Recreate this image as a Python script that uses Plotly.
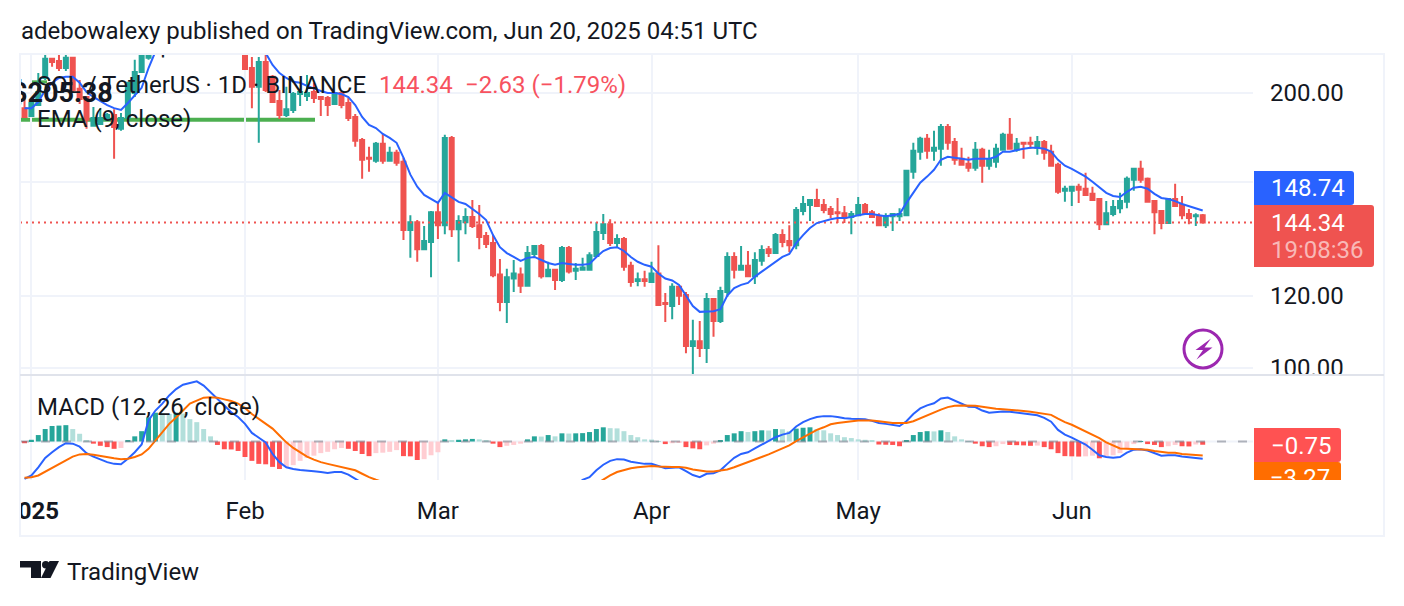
import pandas as pd
import plotly.graph_objects as go

W, H = 1404, 606

# Daily SOL/USDT candles, listed month by month. The rally days of late January are off scale.
candle_days = list(pd.date_range("2024-12-31", "2025-01-19")) + list(pd.date_range("2025-02-01", "2025-06-20"))

opens = [
    192.5, 188.7, 194, 207.7, 218, 216.8, 213, 218.5, 202.1, 198, 184.1, 185, 186.9, 189.2, 182.7, 187.8, 200, 210.9, 218.5, 240,
    228, 213, 203.1, 216.3, 208.3, 196, 189.2, 191.6, 199.5, 198.5, 200.5, 198, 197.5, 194.5, 200, 195, 188.3, 177.7, 169.9, 168.6, 176, 168.6, 172, 168.2, 141.6, 144.4, 134.9, 137.4,
    148.1, 143.3, 178.6, 141.9, 144.4, 146.3, 143.3, 139.5, 137, 126.6, 118.1, 125.3, 126.6, 123, 133.3, 136, 126, 128.1, 124.8, 135.3, 127.8, 128.1, 128.1, 132.6, 140.5, 143.7, 137, 138.4, 129.4, 124.5, 125.1,
    124.2, 126.9, 117.8, 116.9, 122.7, 120.2, 105.7, 107, 105.2, 119, 112.6, 121.1, 132.3, 128.1, 129.4, 126, 131, 134.9, 133.6, 139.8, 137.7, 136.3, 148.5, 150.8, 152.7, 150.8, 149.3, 148.1, 147.7, 146.3,
    147, 150.8, 148.1, 146.6, 143.3, 146.6, 146.6, 147, 164, 172.5, 178.2, 172.9, 173.8, 183.6, 176.8, 169.4, 167.3, 165.6, 173.3, 166.5, 168.2, 173.3, 180, 173.3, 176.4, 176.4, 174.2, 176.8, 172.5, 166.9, 156.3,
    156.3, 157.9, 157.1, 155.1, 153.1, 143.7, 147.4, 149.6, 152, 160.7, 165.2, 161.1, 152.3, 148.5, 144.1, 153.1, 150.8, 147.4, 146.6, 146.97,
]
highs = [
    200, 195, 210.3, 220.1, 218.5, 220.1, 220.6, 219, 206.7, 198.5, 193, 192.5, 190.1, 192, 190.1, 205.2, 217.5, 220.6, 260, 290,
    235, 219, 219, 225, 209.3, 201.5, 203.1, 200.5, 201.5, 209.3, 205.2, 198, 198.5, 200, 200.5, 197.5, 189.7, 178.6, 174.6, 176.8, 180.4, 174.6, 173.3, 169.9, 147, 145.2, 143, 148.5,
    151.6, 180, 179.5, 147, 149.6, 152.7, 150.8, 140.9, 139.8, 131.6, 128.4, 131.3, 128.8, 136, 136.3, 136.7, 130.7, 128.1, 136, 136, 130.3, 132, 133.9, 144.4, 147.4, 145.5, 140.1, 139.1, 130.7, 127.2, 127.8,
    130.7, 136.3, 120.8, 123.8, 123, 121.1, 112.9, 112.6, 120.8, 119.3, 122.7, 133.9, 133.9, 136, 134.3, 133.9, 136.3, 136, 140.5, 141.9, 143.3, 150, 154.3, 152.7, 157.1, 153.1, 150.4, 153.5, 150.4, 148.5,
    153.9, 151.6, 148.9, 147.7, 147.7, 147.4, 149.6, 164.8, 176.4, 179.1, 180.4, 181.8, 185, 185, 178.6, 174.2, 170.3, 176.8, 174.2, 173.3, 176, 180.9, 187.8, 178.6, 176.8, 179.1, 179.5, 177.7, 175.5, 167.8, 158.3,
    157.9, 159.1, 163.6, 157.9, 153.1, 152.3, 152.7, 155.5, 162, 165.6, 168.6, 161.6, 152.7, 148.5, 153.5, 159.1, 154.3, 149.3, 147.7, 147.4,
]
lows = [
    188.3, 188.3, 193.5, 206.7, 213.6, 211.4, 211.4, 200.5, 194.5, 182.7, 184.1, 185, 186.4, 169.4, 181.8, 187.8, 198, 210.3, 217.5, 230,
    212.5, 192.5, 176.4, 200.5, 195.5, 187.3, 188.3, 190.1, 193.5, 196, 195, 188.7, 188.7, 194, 192.5, 186.4, 174.6, 161.1, 164, 167.8, 167.3, 168.2, 166.5, 138.1, 132, 130.7, 134.6, 125.7,
    138.4, 140.1, 139.1, 130.7, 140.1, 142.3, 134.9, 135.3, 125.7, 115.4, 112, 121.1, 120.8, 123, 132.3, 125.3, 125.7, 121.7, 124.2, 126.9, 124.8, 127.8, 128.1, 132.3, 138.1, 136, 135.6, 127.8, 122.7, 122.9, 122.7,
    123.9, 116.9, 112.3, 113.1, 117.2, 103.8, 98, 102.8, 101.3, 108.2, 112, 119.6, 125.3, 128.1, 126, 123.6, 129.4, 132.3, 133.6, 135.6, 133.9, 134.9, 147, 144.8, 150, 147.7, 145.9, 144.1, 144.1, 140.1,
    146.6, 147.7, 145.9, 143.3, 142.3, 141.2, 144.8, 147, 161.1, 169, 169.4, 168.6, 166.5, 173.3, 166.9, 166.5, 164, 164.4, 159.5, 164.8, 165.6, 172.9, 173.3, 172.5, 169.4, 173.8, 171.2, 169, 166.1, 155.1, 152,
    150.4, 151.6, 154.3, 152.7, 141.6, 143.7, 146.6, 147.7, 149.6, 156.3, 159.5, 152, 140.1, 141.9, 144.1, 150.4, 145.5, 143.7, 143, 144.1,
]
closes = [
    188.3, 195, 200.5, 218, 216.3, 213, 218.5, 201.5, 197, 186.9, 187.8, 187.8, 189.2, 183.6, 187.8, 205.2, 210.9, 219.6, 240, 245,
    212.5, 203.1, 216.3, 201.5, 195.5, 189.2, 192, 199.5, 200.5, 200, 197.5, 197, 194, 200, 194, 187.8, 177.3, 169, 169.4, 176, 168.6, 172, 167.8, 141.6, 144.4, 134.9, 137.7, 148.1,
    143.3, 178.6, 141.9, 144.8, 146.3, 143, 139.1, 136.7, 126.3, 118.1, 125.7, 126.9, 123, 133.6, 136, 126, 128.1, 124.8, 135.3, 127.5, 128.4, 128.8, 132.9, 140.9, 143.7, 137, 138.4, 129.1, 124.2, 125.1, 124.5,
    126.9, 117.2, 117.5, 122.7, 120, 105.7, 107, 105.2, 119, 112.6, 121.4, 132.3, 128.1, 129.4, 126, 131.3, 134.6, 133.6, 139.8, 137.4, 136.3, 148.9, 151.2, 152.7, 150.4, 148.9, 147.4, 147.7, 145.9, 147.4,
    150.8, 147.7, 146.3, 143.3, 146.6, 147.4, 147.4, 164.4, 172.9, 178.2, 172.9, 174.2, 183.6, 176.4, 169, 166.9, 165.6, 173.3, 166.5, 169, 173.8, 180, 173.8, 176, 176, 176, 176.8, 172, 166.5, 155.9, 157.1,
    157.9, 156.7, 154.7, 152.7, 143.7, 147.7, 150, 152.3, 161.1, 165.2, 160.7, 152, 148.1, 144.1, 153.1, 150.4, 147, 145.9, 146.97, 144.34,
]
ema9 = [
    192.5, 192.5, 195.5, 201.5, 205.2, 207.7, 208.3, 208.3, 205.2, 200.5, 198, 196, 194, 192.5, 191.6, 195, 198.5, 202.6, 213, 222,
    235, 230, 225, 221.2, 214.6, 210.3, 207.7, 205.7, 205.2, 203.6, 202.1, 201, 200, 200, 199.5, 198, 194, 188.3, 184.5, 183.1, 180.4, 178.6, 176.4, 169.9, 162.8, 157.9, 154.7, 153.1,
    151.6, 155.5, 153.9, 152, 151.2, 149.3, 147.4, 145.2, 139.8, 135.6, 133.6, 132.3, 131, 132, 132.3, 131.3, 130.3, 129.7, 130.3, 130, 129.7, 129.7, 130, 132.3, 134.3, 135.3, 135.6, 134.3, 132.3, 130.7, 129.7,
    129.1, 126.9, 125.3, 124.7, 123.3, 120.2, 116.9, 115.2, 115.4, 115.4, 116, 120, 122.3, 123.3, 123.9, 125.9, 127.5, 129.1, 130.7, 132.3, 133.3, 137, 139.8, 142.3, 144.1, 144.8, 145.5, 145.9, 145.9, 146.3,
    147, 147.4, 147.4, 147, 146.6, 147, 147.4, 151.6, 155.5, 159.5, 162, 164.8, 169, 170.3, 169.9, 169.4, 169, 169.4, 169.4, 169.4, 170.3, 172.5, 172.5, 173.3, 173.8, 174.2, 174.2, 173.8, 172.5, 169, 166.5,
    165.2, 163.6, 162, 159.9, 157.5, 155.5, 154.3, 153.9, 155.9, 157.5, 157.9, 157.1, 155.1, 153.5, 153.1, 152.3, 151.2, 150.4, 149.6, 148.74,
]

# MACD pane, one value per calendar day from Dec 31 to Jun 20.
macd_days = list(pd.date_range("2024-12-31", "2025-06-20"))
macd_line = [
    -8.7, -7.9, -6, -3.8, -2.5, -1.3, -0.4, -0.5, -1.2, -2.7, -3.5, -4.1, -4.8, -5.2, -5.3, -4, -2.5, -0.7, 4.9, 7.2, 8.8, 10.7, 12.2, 13.2, 13.6, 14, 13, 11.5, 9.9, 8.4, 6.8, 5.7,
    4.1, 2, 1, -0.2, -2.9, -4.8, -6, -6.4, -6.6, -6.7, -6.9, -7.1, -7.3, -7.1, -7.1, -7.7, -8.7, -9.8, -10.6, -11, -11.5, -12, -12.5, -13.8, -15, -16, -16.8, -17,
    -17.2, -15.5, -15, -15, -14.8, -15, -15.2, -15.5, -16.5, -17.5, -18, -18, -18, -17, -16.5, -16.5, -16, -16, -15, -14, -10.5, -8.9, -8.3, -6.7, -5.4, -4.5, -4.1, -4.2, -4.7, -5, -5.2,
    -5.2, -5.7, -6.2, -6.1, -6, -6.9, -7.8, -8.3, -7.5, -7.4, -6.7, -5.2, -3.8, -2.9, -2.5, -1.6, -0.7, 0.1, 1, 1.6, 2, 3.5, 4.5, 5.2, 5.7, 5.9, 5.9, 5.7, 5.4, 5.3,
    5.3, 5.2, 4.8, 4.3, 4.1, 3.9, 3.6, 4.7, 6.4, 7.7, 8.4, 8.9, 10, 10.2, 9.5, 8.9, 8.1, 8, 7.2, 6.7, 6.8, 7, 6.9, 6.7, 6.6, 6.3, 6.1, 5.5, 4.6, 2.7, 1.6,
    0.9, 0.1, -0.7, -1.9, -3.2, -3.6, -3.8, -3.6, -2.6, -1.9, -1.8, -2.1, -2.7, -3.3, -3.2, -3.2, -3.5, -3.7, -3.8, -4.02,
]
signal_line = [
    -8.4, -8.3, -7.9, -7, -6.1, -5.2, -4.3, -3.5, -3, -2.9, -3.1, -3.4, -3.6, -3.9, -4.1, -4, -3.6, -3, -1.7, 0.2, 2.1, 4.1, 5.6, 7.3, 8.8, 9.5, 10.2, 10.3, 10.2, 9.8, 9.4, 8.8,
    7.8, 6.4, 5.3, 4.3, 3, 1.4, -0.2, -1.5, -2.5, -3.5, -4.2, -4.8, -5.2, -5.6, -6, -6.4, -6.7, -7.5, -8.3, -8.9, -9.4, -9.8, -10.2, -10.8, -11.5, -12.2, -13, -13.5,
    -14, -14.3, -14.5, -14.6, -14.7, -14.8, -14.9, -15, -15.2, -15.6, -16, -16.3, -16.6, -16.7, -16.4, -16.3, -16, -15.6, -15, -14.2, -13.2, -12, -10.8, -9.8, -8.9, -7.9, -7.1, -6.6, -6.2, -6, -5.8,
    -5.7, -5.8, -5.9, -5.9, -5.9, -6.1, -6.5, -6.8, -7, -7, -6.8, -6.5, -6, -5.4, -4.9, -4.3, -3.6, -3, -2.3, -1.6, -0.9, 0.1, 1, 1.9, 2.7, 3.3, 4, 4.3, 4.5, 4.7,
    4.9, 4.9, 4.9, 4.7, 4.5, 4.3, 4.3, 4.3, 4.7, 5.4, 6, 6.7, 7.4, 8, 8.3, 8.4, 8.4, 8.3, 8.1, 7.8, 7.6, 7.5, 7.4, 7.2, 7.1, 6.9, 6.7, 6.5, 6.2, 5.3, 4.5,
    3.9, 3.1, 2.4, 1.6, 0.8, -0.2, -0.9, -1.6, -1.7, -1.8, -1.8, -1.9, -2.2, -2.4, -2.6, -2.6, -2.9, -3, -3.2, -3.27,
]
histogram = [
    -0.4, 0.4, 1.5, 2.9, 3.6, 3.7, 3.8, 2.9, 1.8, 0.3, -0.5, -1, -1.3, -1.7, -1.5, 0.2, 1.2, 2.4, 5.6, 6.7, 6.5, 6.4, 6.7, 6.5, 5.2, 4.5, 2.9, 1.2, -0.8, -1.8, -1.85, -2.2,
    -3.6, -4.5, -5.2, -5.3, -5.9, -6.4, -5.9, -5.5, -4.5, -3.8, -3.3, -2.7, -2.4, -1.8, -1.5, -1.7, -2.2, -2.9, -3.4, -2.7, -2.6, -2.4, -2, -3.4, -3.45, -4.3, -4.1, -3.2,
    -2.5, 0.5, 0.3, 0.4, 0.5, 0.6, 0.5, 0.2, -0.5, -1.3, -1, -0.8, -0.5, 0.5, 1.2, 1.15, 1.5, 1.2, 1.9, 1.85, 1.9, 1.95, 2.2, 2.9, 3.3, 3.1, 3.05, 2.4, 1.5, 1, 0.5,
    0.45, 0.1, -0.6, -0.4, -0.3, -1.3, -1.6, -1.8, -0.9, -0.5, 0.3, 1.5, 1.9, 2.4, 2.2, 2.4, 2.6, 2.55, 2.9, 2.85, 2.4, 3, 3.2, 3.3, 2.9, 2.6, 1.9, 1.5, 1, 0.8,
    0.5, 0.4, 0.15, -0.7, -0.75, -0.8, -1.1, 0.3, 1.5, 2.2, 2.4, 2.35, 2.6, 2.2, 1.2, 0.5, 0.1, -0.5, -1.1, -1.3, -1.1, -0.6, -0.8, -0.85, -0.9, -1, -0.95, -1.3, -1.8, -2.7, -3.4,
    -3.45, -3.5, -3.45, -3.3, -3.9, -3.4, -3.2, -2.7, -1.6, -0.6, 0.1, -0.6, -0.8, -1.3, -1.1, -0.8, -1.1, -1.15, -0.7, -0.75,
]

price_ticks = [100, 120, 160, 200]
price_labels = ["100.00", "120.00", "160.00", "200.00"]
date_ticks = ["2025-01-01", "2025-02-01", "2025-03-01", "2025-04-01", "2025-05-01", "2025-06-01"]
date_labels = ["<b>2025</b>", "Feb", "Mar", "Apr", "May", "Jun"]

TEXT = "#131722"
GRID = "#f0f3fa"
UP = "#26a69a"
DOWN = "#ef5350"
BLUE = "#2962ff"
ORANGE = "#ff6d00"
PURPLE = "#9c27b0"
FONT = "Roboto"

X_RANGE = ["2024-12-30 08:15", "2025-06-27 07:12"]
Y_RANGE = [1.99344, 2.34369]      # log10 of the visible price span
MACD_RANGE = [-8.95, 15.23]


def px(x):
    return x / W


def py(y):
    return 1 - y / H


def bar_colour(i):
    """Teal when positive, red when negative; the pale shade marks a shrinking or reversing bar."""
    cur = histogram[i]
    prev = histogram[i - 1] if i else 0
    if cur >= 0:
        return UP if cur > prev else "#b2dfdb"
    return "#ffcdd2" if cur > prev else "#ff5252"


def tag_path(x0, y0, x1, y1, r=3):
    """Price-scale tag: square on the chart side, rounded on the outer side."""
    return (f"M{px(x0)},{py(y0)} L{px(x1 - r)},{py(y0)} Q{px(x1)},{py(y0)} {px(x1)},{py(y0 + r)} "
            f"L{px(x1)},{py(y1 - r)} Q{px(x1)},{py(y1)} {px(x1 - r)},{py(y1)} L{px(x0)},{py(y1)} Z")


def poly(points):
    return "M" + " L".join(f"{px(x)},{py(y)}" for x, y in points) + " Z"


def rect(x0, y0, x1, y1, colour, layer="above"):
    return dict(type="rect", xref="paper", yref="paper", x0=px(x0), x1=px(x1), y0=py(y0), y1=py(y1),
                fillcolor=colour, line_width=0, layer=layer)


def filled(path, colour):
    return dict(type="path", xref="paper", yref="paper", path=path, fillcolor=colour, line_width=0, layer="above")


def hline(x0, x1, y, colour, width):
    return dict(type="line", xref="paper", yref="paper", x0=px(x0), x1=px(x1), y0=py(y), y1=py(y),
                line=dict(color=colour, width=width), layer="above")


def note(x, y, text, size=24, colour=TEXT, anchor="left"):
    return dict(xref="paper", yref="paper", x=px(x), y=py(y), text=text, showarrow=False, xanchor=anchor,
                yanchor="middle", borderpad=0, font=dict(family=FONT, size=size, color=colour))


fig = go.Figure()

fig.add_trace(go.Candlestick(
    x=candle_days, open=opens, high=highs, low=lows, close=closes, whiskerwidth=0,
    increasing=dict(line=dict(color=UP, width=2), fillcolor=UP),
    decreasing=dict(line=dict(color=DOWN, width=2), fillcolor=DOWN),
    hoverinfo="skip", showlegend=False, xaxis="x", yaxis="y",
))
fig.add_trace(go.Scatter(x=X_RANGE, y=[closes[-1]] * 2, mode="lines", hoverinfo="skip", showlegend=False,
                         line=dict(color=DOWN, width=2, dash="2px,4px"), xaxis="x", yaxis="y"))
fig.add_trace(go.Scatter(x=candle_days, y=ema9, mode="lines", hoverinfo="skip", showlegend=False,
                         line=dict(color=BLUE, width=2), xaxis="x", yaxis="y"))
# Price labels of the drawing tools; they stay clipped to the price pane.
fig.add_trace(go.Scatter(x=["2025-01-05 12:00", "2025-01-23 10:00"], y=[199, 224], mode="text",
                         text=["$205.38", "$243"], textposition="middle center", hoverinfo="skip", showlegend=False,
                         textfont=dict(family=FONT, size=27, color=TEXT, weight="bold"), xaxis="x", yaxis="y"))

fig.add_trace(go.Bar(x=macd_days, y=histogram, width=0.72 * 86400000, hoverinfo="skip", showlegend=False,
                     marker=dict(color=[bar_colour(i) for i in range(len(histogram))], line_width=0),
                     xaxis="x2", yaxis="y2"))
fig.add_trace(go.Scatter(x=macd_days, y=macd_line, mode="lines", hoverinfo="skip", showlegend=False,
                         line=dict(color=BLUE, width=2), xaxis="x2", yaxis="y2"))
fig.add_trace(go.Scatter(x=macd_days, y=signal_line, mode="lines", hoverinfo="skip", showlegend=False,
                         line=dict(color=ORANGE, width=2), xaxis="x2", yaxis="y2"))
# Signal tag text, cut off by the bottom of its pane.
fig.add_trace(go.Scatter(x=[0.18], y=[0.0], mode="text", text=["\u22123.27"], textposition="middle right",
                         hoverinfo="skip", showlegend=False, textfont=dict(family=FONT, size=24, color="#ffffff"),
                         xaxis="x3", yaxis="y3"))

shapes = [
    # drawn support lines behind the candles
    dict(type="line", xref="paper", yref="y", x0=px(20), x1=px(315), y0=186.9, y1=186.9,
         line=dict(color="#4caf50", width=4), layer="between"),
    dict(type="line", xref="paper", yref="y", x0=px(30), x1=px(47), y0=205.7, y1=205.7,
         line=dict(color="#4caf50", width=3), layer="between"),
    # zero line of the MACD pane
    dict(type="line", xref="x2", yref="y2", x0=X_RANGE[0], x1=X_RANGE[1], y0=0, y1=0,
         line=dict(color=GRID, width=2), layer="between"),
    dict(type="line", xref="x2", yref="y2", x0=X_RANGE[0], x1=X_RANGE[1], y0=0, y1=0,
         line=dict(color="rgba(120,123,134,0.55)", width=2, dash="9px,12px"), layer="above"),
    # masks that cut the outermost axis labels at the panes' edges
    rect(1254, 375, 1382, 392, "#ffffff"),
    rect(0, 490, 19, 530, "#ffffff"),
    # frame and pane separator
    dict(type="rect", xref="paper", yref="paper", x0=px(20), x1=px(1384), y0=py(54), y1=py(536),
         line=dict(color=GRID, width=2), layer="above"),
    hline(20, 1384, 375, "#e0e3eb", 2),
    # price-scale tags
    filled(tag_path(1254, 171, 1354, 205), BLUE),
    filled(tag_path(1254, 205, 1374, 267), DOWN),
    filled(tag_path(1254, 428, 1341, 462), "#ff5252"),
    # lightning badge
    dict(type="circle", xref="paper", yref="paper", x0=px(1184), x1=px(1222), y0=py(330), y1=py(368),
         line=dict(color=PURPLE, width=3), layer="above"),
    filled(poly([(1211, 338.5), (1195.5, 350), (1203, 350), (1196.5, 359.5), (1212.5, 347.5), (1204.5, 347.5)]), PURPLE),
    # TradingView logo
    filled(poly([(20, 561), (41, 561), (41, 578), (31, 578), (31, 567.5), (20, 567.5)]), TEXT),
    filled(poly([(49.5, 561), (59, 561), (50.5, 578), (41, 578)]), TEXT),
    dict(type="circle", xref="paper", yref="paper", x0=px(42), x1=px(49.5), y0=py(561), y1=py(568.5),
         fillcolor=TEXT, line_width=0, layer="above"),
    # signal tag sits under its text
    dict(type="path", xref="paper", yref="paper", fillcolor=ORANGE, line_width=0, layer="below",
         path=f"M{px(1254)},{py(462)} L{px(1338)},{py(462)} Q{px(1341)},{py(462)} {px(1341)},{py(465)} "
              f"L{px(1341)},{py(480)} L{px(1254)},{py(480)} Z"),
]

annotations = [
    note(20, 31, "adebowalexy published on TradingView.com, Jun 20, 2025 04:51 UTC"),
    note(36, 85, "SOL / TetherUS \u00b7 1D \u00b7 BINANCE"),
    note(378, 85, "144.34", colour="#f7525f"),
    note(464, 85, "\u22122.63 (\u22121.79%)", colour="#f7525f"),
    note(36, 119, "EMA (9, close)"),
    note(36, 407, "MACD (12, 26, close)"),
    note(1270, 188, "148.74", colour="#ffffff"),
    note(1270, 223, "144.34", colour="#ffffff"),
    note(1270, 250, "19:08:36", colour="rgba(255,255,255,0.6)"),
    note(1270, 446, "\u22120.75", colour="#ffffff"),
    note(66, 572, "TradingView"),
]

fig.update_layout(
    width=W, height=H, autosize=False, paper_bgcolor="#ffffff", plot_bgcolor="rgba(0,0,0,0)",
    margin=dict(l=0, r=0, t=0, b=0, pad=0, autoexpand=False), showlegend=False, hovermode=False,
    boxgap=0.42, boxgroupgap=0, barmode="overlay", font=dict(family=FONT, size=24, color=TEXT),
    shapes=shapes, annotations=annotations,
    xaxis=dict(domain=[px(20), px(1253)], range=X_RANGE, type="date", anchor="y", rangeslider=dict(visible=False),
               tickmode="array", tickvals=date_ticks, showticklabels=False, ticks="", automargin=False,
               showgrid=True, gridcolor=GRID, gridwidth=2, zeroline=False, showline=False),
    yaxis=dict(domain=[py(374), py(54)], type="log", range=Y_RANGE, anchor="x", side="right", automargin=False,
               tickmode="array", tickvals=price_ticks, ticktext=price_labels, ticks="", ticklabelstandoff=16,
               tickfont=dict(family=FONT, size=24, color=TEXT),
               showgrid=True, gridcolor=GRID, gridwidth=2, zeroline=False, showline=False),
    xaxis2=dict(domain=[px(20), px(1253)], range=X_RANGE, type="date", anchor="y2", matches="x", automargin=False,
                tickmode="array", tickvals=date_ticks, ticktext=date_labels, ticks="", ticklabelstandoff=14,
                tickfont=dict(family=FONT, size=24, color=TEXT),
                showgrid=True, gridcolor=GRID, gridwidth=2, zeroline=False, showline=False),
    yaxis2=dict(domain=[py(480), py(376)], range=MACD_RANGE, anchor="x2", side="right", showticklabels=False,
                ticks="", showgrid=False, zeroline=False, showline=False, automargin=False),
    xaxis3=dict(domain=[px(1254), px(1341)], range=[0, 1], anchor="y3", visible=False, automargin=False),
    yaxis3=dict(domain=[py(480), py(462)], range=[0, 1], anchor="x3", visible=False, automargin=False),
)

fig.write_html("out.html")
